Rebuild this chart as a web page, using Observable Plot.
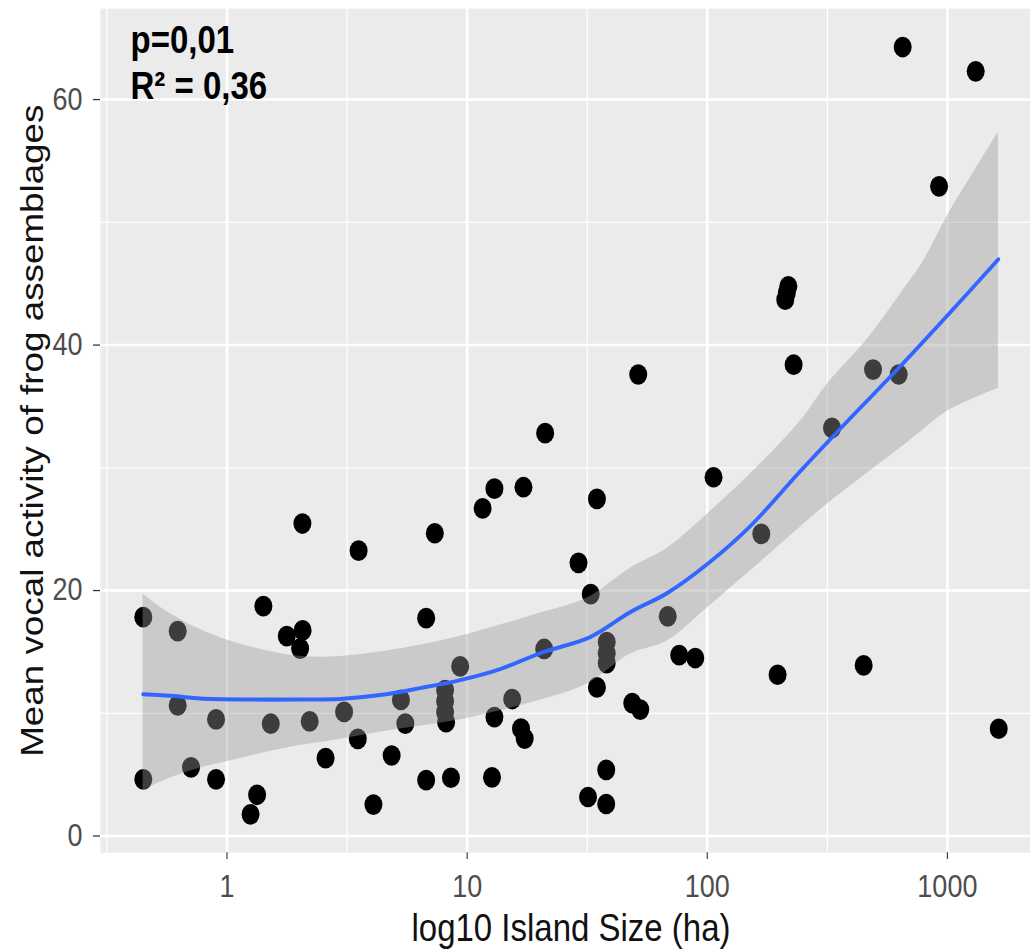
<!DOCTYPE html>
<html>
<head>
<meta charset="utf-8">
<script src="https://cdn.jsdelivr.net/npm/d3@7"></script>
<script src="https://cdn.jsdelivr.net/npm/@observablehq/plot@0.6"></script>
<style>
  html { overflow: hidden; }
  body { margin: 0; padding: 0; background: #ffffff; width: 1030px; height: 951px; }
  #chart { width: 1030px; height: 951px; overflow: visible; }
  #chart svg { display: block; max-width: none !important; width: 1041px !important; height: 827px !important;
    transform: scaleY(1.15); transform-origin: 0 0; }
</style>
</head>
<body>
<div id="chart"></div>
<script>
// ---- data ----
const islandSize = [0.448,0.448,0.623,0.623,0.708,0.900,0.900,1.253,1.334,1.417,
  1.521,1.773,2.064,2.015,2.060,2.209,2.573,3.073,3.504,3.531,
  4.071,4.847,5.300,5.528,6.749,6.749,7.334,8.094,8.094,8.094,
  8.172,8.560,9.350,11.60,12.69,12.99,12.99,15.40,16.76,17.36,
  17.16,21.13,20.93,29.09,32.71,31.87,34.71,34.71,38.13,38.13,
  38.13,37.95,37.95,48.70,52.58,51.58,68.45,76.43,89.13,106.2,
  167.9,196.3,217.6,214.5,211.3,228.9,330.8,448.1,490.3,626.9,
  651.4,923.5,1312,1636];
const vocalActivity = [17.83,4.62,16.69,10.64,5.59,9.50,4.62,1.77,3.36,18.73,
  9.15,16.29,16.75,15.27,25.46,9.34,6.35,10.11,7.92,23.25,
  2.56,6.56,11.09,9.16,17.75,4.56,24.67,11.89,10.99,10.10,
  9.28,4.75,13.82,26.69,4.78,28.30,9.69,11.16,8.75,7.94,
  28.42,32.82,15.24,22.26,19.71,3.18,27.47,12.11,15.80,14.90,
  14.09,5.39,2.61,10.83,10.30,37.60,17.90,14.74,14.50,29.23,
  24.62,13.14,44.79,44.26,43.70,38.40,33.25,13.90,38.00,37.60,
  64.28,52.93,62.30,8.74];

const smoothX = [0.447,0.607,0.772,1.247,2.015,2.957,4.341,6.372,9.35,13.72,20.73,32.54,47.8,68.1,100,151,244,394,637,1029,1631];
const smoothY = [11.56,11.40,11.20,11.12,11.12,11.16,11.48,12.05,12.70,13.60,14.98,16.21,18.24,19.79,22.15,25.24,29.72,34.04,38.27,42.67,46.99];

const bandX = [0.447,0.541,0.750,1.029,1.413,1.957,2.687,4.642,8.744,12.47,19.57,31.62,47.8,68.1,100,151,244,316,464,637,794,1000,1631];
const bandUpper = [19.71,18.49,16.94,15.88,15.15,14.66,14.58,15.07,16.12,16.94,18.08,19.38,21.82,23.45,26.22,29.48,33.79,36.81,40.47,44.14,46.82,50.49,57.33];
const bandLower = [3.66,4.48,5.46,6.11,6.76,7.33,7.74,8.55,9.36,10.02,10.99,12.38,14.82,15.88,18.57,21.58,25.16,27.04,29.56,31.60,33.10,34.61,36.48];

const xMajorTicks = [1, 10, 100, 1000];
const xMinorTicks = [0.3162, 3.162, 31.62, 316.2];
const yMajorTicks = [0, 20, 40, 60];
const yMinorTicks = [10, 30, 50];

const xTitle = "log10 Island Size (ha)";
const yTitle = "Mean vocal activity of frog assemblages";
const annotationLines = ["p=0,01", "R\u00B2 = 0,36"];

// ---- tables built from the arrays ----
const points = islandSize.map((x, i) => ({x, y: vocalActivity[i]}));
const smooth = smoothX.map((x, i) => ({x, y: smoothY[i]}));
const band = bandX.map((x, i) => ({x, lo: bandLower[i], hi: bandUpper[i]}));

const font = "'Liberation Sans', Arial, Helvetica, sans-serif";

const chart = Plot.plot({
  width: 1041,
  height: 827,
  marginLeft: 100,
  marginRight: 0,
  marginTop: 7,
  marginBottom: 86,
  style: {fontFamily: font, background: "#ffffff", overflow: "visible", maxWidth: "none"},
  x: {type: "log", domain: [Math.pow(10, -0.527), Math.pow(10, 3.392)]},
  y: {domain: [-1.36, 67.41]},
  marks: [
    Plot.frame({fill: "#EBEBEB", stroke: "none"}),
    Plot.gridY({ticks: yMinorTicks, stroke: "#ffffff", strokeOpacity: 1, strokeWidth: 1.1}),
    Plot.gridX({ticks: xMinorTicks, stroke: "#ffffff", strokeOpacity: 1, strokeWidth: 1.2}),
    Plot.gridY({ticks: yMajorTicks, stroke: "#ffffff", strokeOpacity: 1, strokeWidth: 2.2}),
    Plot.gridX({ticks: xMajorTicks, stroke: "#ffffff", strokeOpacity: 1, strokeWidth: 2.5}),
    Plot.dot(points, {x: "x", y: "y", r: 9, fill: "#000000", stroke: "none"}),
    Plot.areaY(band, {x: "x", y1: "lo", y2: "hi", fill: "#999999", fillOpacity: 0.4, curve: "catmull-rom"}),
    Plot.line(smooth, {x: "x", y: "y", stroke: "#3366FF", strokeWidth: 3.5, curve: "catmull-rom"}),
    Plot.axisX({ticks: xMajorTicks, tickFormat: d => String(d), tickSize: 6, tickPadding: 13,
      fontSize: 27, fill: "#4D4D4D", stroke: "#333333", strokeWidth: 1.1, label: null}),
    Plot.axisY({ticks: yMajorTicks, tickFormat: d => String(d), tickSize: 7, tickPadding: 11,
      fontSize: 27, fill: "#4D4D4D", stroke: "#333333", strokeWidth: 1.1, label: null}),
    Plot.text([xTitle], {text: d => d, frameAnchor: "bottom", dy: 77, lineAnchor: "bottom",
      textAnchor: "middle", fontSize: 33, fill: "#111111"}),
    Plot.text([yTitle], {text: d => d, frameAnchor: "left", rotate: -90, dx: -58, lineAnchor: "bottom",
      textAnchor: "middle", fontSize: 32, fill: "#111111"}),
    Plot.text([annotationLines.join("\n")], {text: d => d, frameAnchor: "top-left", dx: 30, dy: 10,
      lineAnchor: "top", textAnchor: "start", lineHeight: 1.22, fontSize: 33, fontWeight: "bold", fill: "#000000"})
  ]
});

document.getElementById("chart").appendChild(chart);
</script>
</body>
</html>
